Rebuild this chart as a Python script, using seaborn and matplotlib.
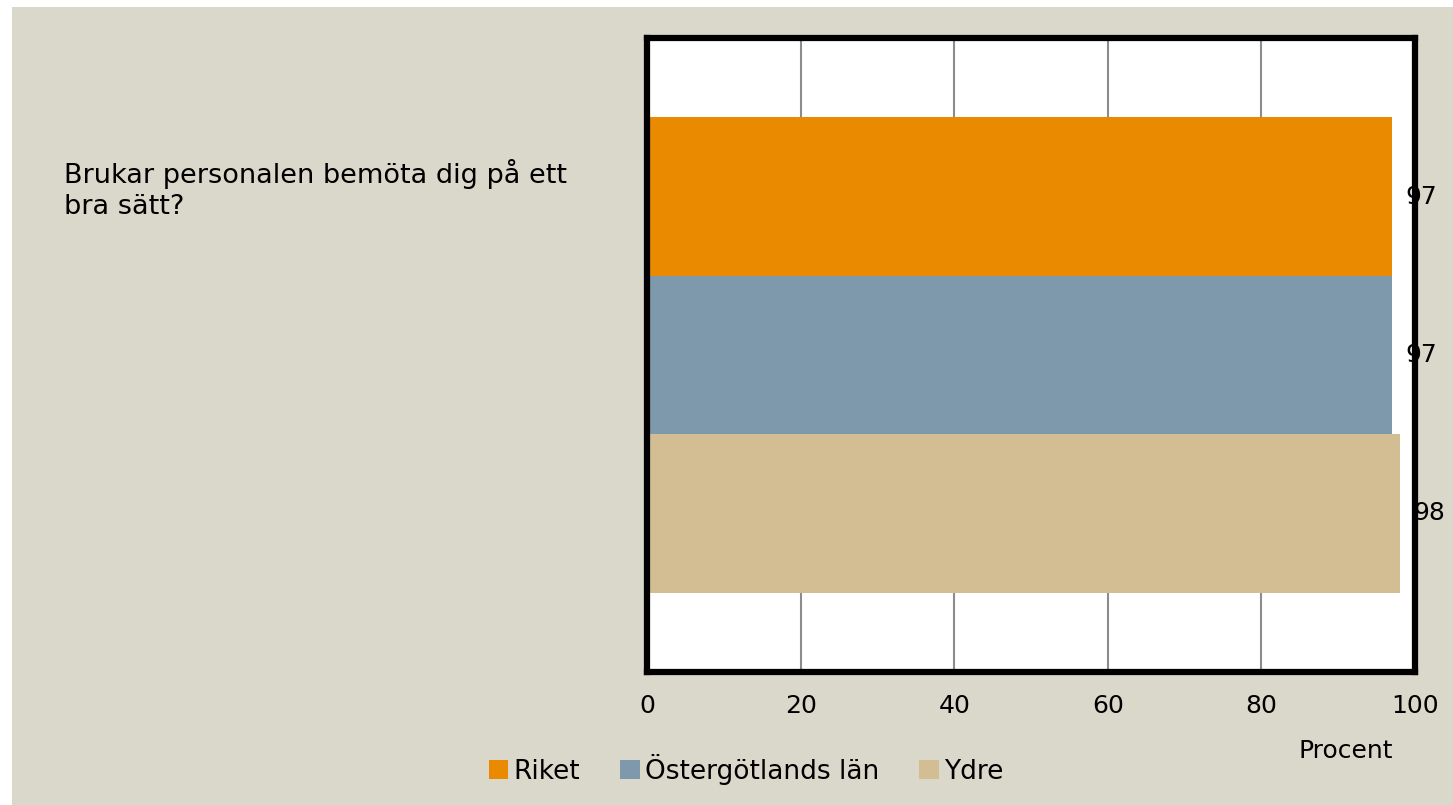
import pandas as pd
import matplotlib.pyplot as plt
from matplotlib.patches import Rectangle
import seaborn as sns

# data
categories = ["Brukar personalen bemöta dig på ett\nbra sätt?"]
series = ["Riket", "Östergötlands län", "Ydre"]
values = [97, 97, 98]
colors = ["#EA8A00", "#7E99AC", "#D3BE94"]
x_ticks = [0, 20, 40, 60, 80, 100]

df = pd.DataFrame({
    "fraga": categories * len(series),
    "serie": series,
    "procent": values,
})

sns.set_style("white")
plt.rcParams['font.family'] = ['DejaVu Sans']
plt.rcParams['text.color'] = 'black'
plt.rcParams['xtick.color'] = 'black'
plt.rcParams['axes.labelcolor'] = 'black'
bg = "#DAD8CB"
fs = 18

fig = plt.figure(figsize=(14.53, 8.05), dpi=100)
fig.patch.set_facecolor("white")
# beige backdrop, leaving a thin white strip at top and left
fig.patches.append(Rectangle((12 / 1453, 0), 1, 1 - 7 / 805, transform=fig.transFigure,
                             facecolor=bg, edgecolor="none", zorder=-10))

ax = fig.add_axes([647 / 1453, 1 - 672 / 805, 768 / 1453, 634 / 805])
sns.barplot(data=df, y="fraga", x="procent", hue="serie", orient="h",
            palette=colors, width=0.75, saturation=1, linewidth=0, ax=ax, zorder=3)

ax.set_facecolor("white")
ax.set_xlim(0, 100)
ax.set_xticks(x_ticks)
ax.set_xticklabels([str(t) for t in x_ticks], fontsize=fs)
ax.tick_params(axis="x", length=0, pad=16)
ax.set_yticks([])
ax.set_ylabel("")
ax.set_xlabel("Procent", fontsize=fs)
ax.xaxis.set_label_coords(0.91, -0.105)
ax.grid(axis="x", color="#8C8C8C", linewidth=1.5, zorder=0)
ax.set_axisbelow(True)
for s in ax.spines.values():
    s.set_visible(True)
    s.set_linewidth(4.5)
    s.set_color("black")
    s.set_zorder(4)

# value labels
for cont in ax.containers:
    ax.bar_label(cont, fmt="%d", padding=10, fontsize=fs, clip_on=False, zorder=6)

# question text on the left
fig.text(64 / 1453, 1 - 189 / 805, categories[0], ha="left", va="center",
         fontsize=19.5, linespacing=1.25)

handles, labels = ax.get_legend_handles_labels()
ax.legend_.remove()
fig.legend(handles, labels, loc="center", bbox_to_anchor=(746 / 1453, 1 - 769 / 805),
           ncol=3, frameon=False, fontsize=19, handlelength=0.75, handleheight=0.75,
           handletextpad=0.2, columnspacing=1.5)

fig.savefig("out.png", dpi=100, facecolor=fig.get_facecolor())
